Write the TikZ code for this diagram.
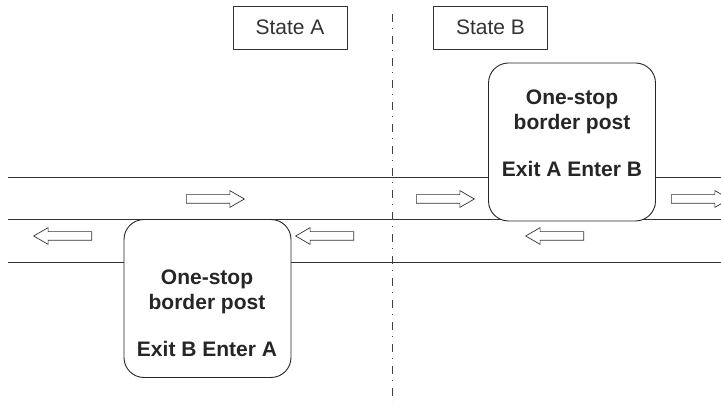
\documentclass[tikz,border=0pt]{standalone}
\usepackage{fontspec}
\setmainfont{Liberation Sans}
\usetikzlibrary{shapes.arrows,positioning}

\begin{document}
\begin{tikzpicture}[x=1pt, y=-1pt,
    road/.style={line width=0.9pt, black!80},
    border/.style={line width=0.8pt, black!75, dash pattern=on 8pt off 6pt on 1.5pt off 6.5pt},
    statebox/.style={draw=black!80, line width=0.8pt, minimum width=114pt, minimum height=43pt,
        font=\fontsize{21}{25}\selectfont, text=black!80},
    post/.style={draw=black!85, fill=white, line width=0.9pt, rounded corners=20pt,
        minimum width=167pt, minimum height=158pt},
    posttext/.style={align=center, inner sep=0pt, font=\fontsize{21}{25}\selectfont\bfseries, text=black!85},
    flow/.style={single arrow, draw=black!80, fill=white, line width=0.7pt, inner xsep=0pt, inner ysep=4pt,
        text height=0pt, text depth=0pt, minimum height=58pt, single arrow head extend=4pt,
        single arrow tip angle=60, anchor=tail}]
    \useasboundingbox (0,0) rectangle (721,406);

    % Road lanes
    \draw[road] (8,177) -- (721,177);
    \draw[road] (8,219) -- (721,219);
    \draw[road] (8,262) -- (721,262);

    % Border between the two states
    \coordinate (bTop) at (392,14);
    \coordinate (bBot) at (392,402);
    \draw[border] (bTop) -- (bBot);

    \node[statebox] (stateA) at (290,27.5) {State A};
    \node[statebox] (stateB) at (490.5,27.5) {State B};

    % One-stop border posts
    \node[post] (postL) at (207.5,298.5) {};
    \node[posttext] (postLtext) at (207,313) {One-stop\\border post\\[22pt]Exit B Enter A};
    \node[post] (postR) at (572,142) {};
    \node[posttext] (postRtext) at (572,133) {One-stop\\border post\\[22pt]Exit A Enter B};

    % Traffic flow, A to B
    \node[flow] (eastA) at (186,199) {};
    \node[flow] (eastB) at (416,199) {};
    \node[flow] (eastC) at (671,199) {};

    % Traffic flow, B to A
    \node[flow, shape border rotate=180] (westA) at (92,236) {};
    \node[flow, shape border rotate=180] (westB) at (354,236) {};
    \node[flow, shape border rotate=180] (westC) at (584,236) {};
\end{tikzpicture}
\end{document}
